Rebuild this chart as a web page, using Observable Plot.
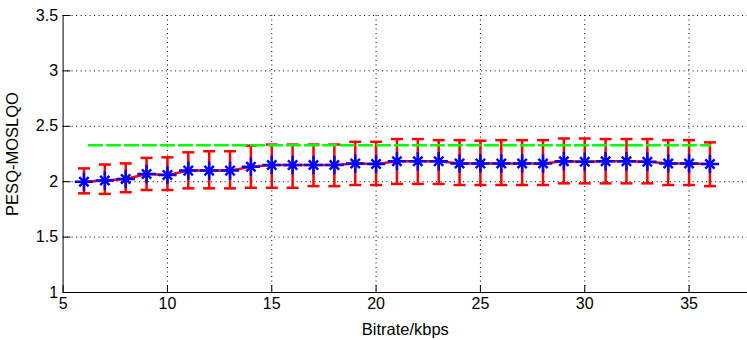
<!DOCTYPE html>
<html>
<head>
<meta charset="utf-8">
<script src="https://cdn.jsdelivr.net/npm/d3@7"></script>
<script src="https://cdn.jsdelivr.net/npm/@observablehq/plot@0.6"></script>
<style>
  html, body { margin: 0; padding: 0; background: #fff; }
  svg { display: block; }
</style>
</head>
<body>
<div id="chart"></div>
<script>
// ---- data ----
const bitrate  = [6, 7, 8, 9, 10, 11, 12, 13, 14, 15, 16, 17, 18, 19, 20, 21, 22, 23, 24, 25, 26, 27, 28, 29, 30, 31, 32, 33, 34, 35, 36];
const meanMos  = [2.00, 2.01, 2.025, 2.07, 2.06, 2.10, 2.10, 2.10, 2.135, 2.15, 2.15, 2.15, 2.15, 2.165, 2.16, 2.185, 2.185, 2.185, 2.165, 2.165, 2.165, 2.165, 2.165, 2.185, 2.18, 2.185, 2.185, 2.18, 2.165, 2.165, 2.16];
const upperMos = [2.12, 2.155, 2.165, 2.215, 2.22, 2.265, 2.275, 2.275, 2.325, 2.335, 2.335, 2.335, 2.335, 2.36, 2.36, 2.385, 2.385, 2.375, 2.375, 2.37, 2.375, 2.375, 2.375, 2.39, 2.39, 2.385, 2.385, 2.385, 2.375, 2.375, 2.355];
const lowerMos = [1.895, 1.89, 1.905, 1.925, 1.925, 1.94, 1.94, 1.94, 1.945, 1.945, 1.945, 1.96, 1.96, 1.97, 1.97, 1.98, 1.98, 1.98, 1.97, 1.97, 1.97, 1.97, 1.97, 1.985, 1.985, 1.985, 1.985, 1.985, 1.97, 1.97, 1.96];
const refBitrate = [6, 36];
const refMos = [2.33, 2.33];
const xTicks = [5, 10, 15, 20, 25, 30, 35];
const yTicks = [1, 1.5, 2, 2.5, 3, 3.5];
const xLabel = "Bitrate/kbps";
const yLabel = "PESQ-MOSLQO";

// ---- build tables ----
const data = bitrate.map((b, i) => ({b, m: meanMos[i], hi: upperMos[i], lo: lowerMos[i]}));
const ref = refBitrate.map((b, i) => ({b, m: refMos[i]}));

const lineShape = {draw(ctx, l) { ctx.moveTo(0, 0); ctx.lineTo(0, -l); }};
const font = "Arial, 'Liberation Sans', Helvetica, sans-serif";
const dotted = {stroke: "#000", strokeOpacity: 1, strokeWidth: 1, strokeDasharray: "1,3.5"};

const chart = Plot.plot({
  width: 747,
  height: 340,
  marginLeft: 62.6,
  marginRight: 0,
  marginTop: 15,
  marginBottom: 48,
  style: {fontFamily: font, fontSize: "16px", background: "#fff", color: "#000", overflow: "visible"},
  x: {domain: [5, 37.8]},
  y: {domain: [1, 3.5]},
  marks: [
    // dotted grid
    Plot.gridX(xTicks.filter(t => t > 5), dotted),
    Plot.gridY(yTicks.filter(t => t > 1), dotted),
    // axis lines
    Plot.ruleX([5], {stroke: "#000", strokeWidth: 1}),
    Plot.ruleY([1], {stroke: "#000", strokeWidth: 1}),
    // inward ticks
    Plot.vector(xTicks, {x: d => d, frameAnchor: "bottom", length: 7, rotate: 0, anchor: "start", shape: lineShape, stroke: "#000", strokeWidth: 1}),
    Plot.vector(yTicks, {y: d => d, frameAnchor: "left", length: 7, rotate: 90, anchor: "start", shape: lineShape, stroke: "#000", strokeWidth: 1}),
    // tick labels
    Plot.axisX(xTicks, {tickSize: 0, tickPadding: 5, label: null, fontSize: 16, tickFormat: d => String(d)}),
    Plot.axisY(yTicks, {tickSize: 0, tickPadding: 5, label: null, fontSize: 16, tickFormat: d => String(d)}),
    // axis labels
    Plot.axisX({ticks: [], tickSize: 0, label: xLabel, labelAnchor: "center", labelArrow: "none", labelOffset: 42, fontSize: 16.5}),
    Plot.axisY({ticks: [], tickSize: 0, label: yLabel, labelAnchor: "center", labelArrow: "none", labelOffset: 57, fontSize: 16.5}),
    // error bars
    Plot.line(data, {x: "b", y: "m", stroke: "#ff0000", strokeWidth: 2.5}),
    Plot.ruleX(data, {x: "b", y1: "lo", y2: "hi", stroke: "#ff0000", strokeWidth: 2.5}),
    Plot.vector(data, {x: "b", y: "hi", length: 12, rotate: 90, anchor: "middle", shape: lineShape, stroke: "#ff0000", strokeWidth: 2.5, strokeLinecap: "butt"}),
    Plot.vector(data, {x: "b", y: "lo", length: 12, rotate: 90, anchor: "middle", shape: lineShape, stroke: "#ff0000", strokeWidth: 2.5, strokeLinecap: "butt"}),
    // reference dashed line
    Plot.line(ref, {x: "b", y: "m", stroke: "#00ff00", strokeWidth: 2.5, strokeDasharray: "13,5", strokeDashoffset: 13}),
    // star markers
    Plot.dot(data, {x: "b", y: "m", symbol: "plus", r: 6, stroke: "#0000ff", strokeWidth: 2.5, fill: "none"}),
    Plot.dot(data, {x: "b", y: "m", symbol: "times", r: 4.3, stroke: "#0000ff", strokeWidth: 2.5, fill: "none"})
  ]
});
document.getElementById("chart").appendChild(chart);
</script>
</body>
</html>
